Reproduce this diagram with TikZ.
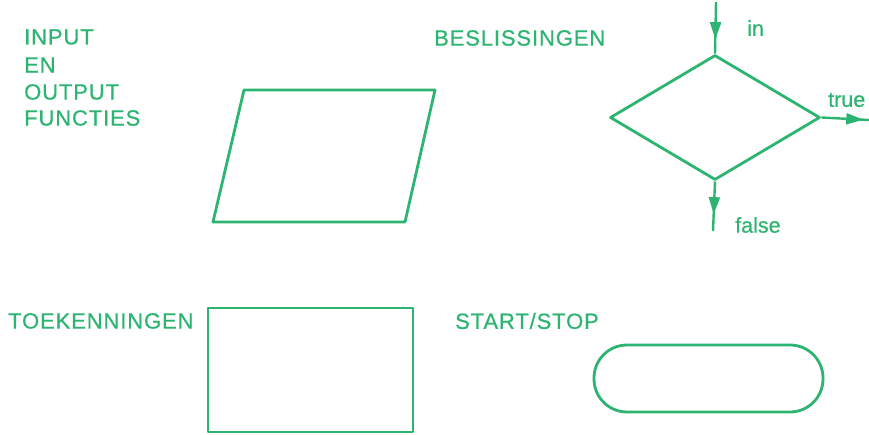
\documentclass[tikz,border=0pt]{standalone}
\usepackage{fontspec}
\setmainfont{Liberation Sans}[FakeBold=0.5]
\newfontfamily\lblfont[LetterSpace=4,FakeBold=0.6]{Liberation Sans}
\usetikzlibrary{shapes.geometric,shapes.misc,arrows.meta,decorations.markings}
\definecolor{fg}{RGB}{45,180,112}
\tikzset{
  shapeline/.style={draw=fg, line width=2.8pt, line join=round},
  caption/.style={text=fg, font=\lblfont\fontsize{22}{26}\selectfont, inner sep=0pt, anchor=west},
  small/.style={text=fg, font=\fontsize{21.5}{24}\selectfont, inner sep=0pt, anchor=west},
  midarrow/.style={draw=fg, line width=2.4pt, postaction={decorate},
    decoration={markings, mark=at position #1 with {\arrow{Triangle[length=17pt,width=11pt]}}}},
}
\begin{document}
\begin{tikzpicture}[x=1pt,y=-1pt, fg]
\useasboundingbox (0,0) rectangle (869,435);
% captions
\node[caption] (t1) at (24,37) {INPUT};
\node[caption] (t2) at (24,65) {EN};
\node[caption] (t3) at (24,92) {OUTPUT};
\node[caption] (t4) at (24,118) {FUNCTIES};
\node[caption] (t5) at (434,38) {BESLISSINGEN};
\node[caption] (t6) at (8,321) {TOEKENNINGEN};
\node[caption] (t7) at (455,321) {START/STOP};
% parallelogram
\draw[shapeline] (244,90) -- (435,90) -- (405,222) -- (213,222) -- cycle;
% decision
\node[shapeline, diamond, minimum width=210pt, minimum height=125pt, inner sep=0pt] (d) at (715,117.5) {};
\coordinate (din) at (716,2);
\coordinate (dtrue) at (869,120);
\coordinate (dfalse) at (713,231);
\draw[midarrow=0.72] (din) -- (d.north);
\draw[midarrow=0.88] (d.east) -- (dtrue);
\draw[midarrow=0.66] (d.south) -- (dfalse);
\node[small] (lin) at (747,28) {in};
\node[small] (ltrue) at (828,100) {true};
\node[small] (lfalse) at (735,225) {false};
% assignment
\node[shapeline, rectangle, minimum width=205pt, minimum height=124pt] (r) at (310.5,370) {};
% start/stop
\node[shapeline, rectangle, rounded corners=33pt, minimum width=229pt, minimum height=67pt] (s) at (708.5,378.5) {};
\end{tikzpicture}
\end{document}
